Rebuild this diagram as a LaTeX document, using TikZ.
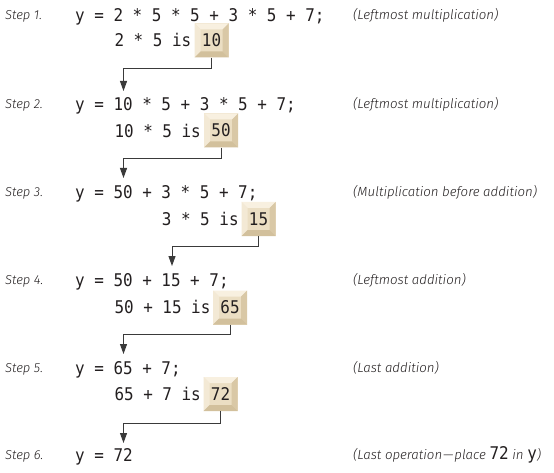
\documentclass[tikz,border=0pt]{standalone}
\usepackage{fontspec}
\setmainfont{Fira Sans}[UprightFont=* Light, ItalicFont=* Light Italic, BoldFont=*, BoldItalicFont=* Italic]
\newfontfamily\monofont[FakeStretch=0.91]{DejaVu Sans Mono}
\usetikzlibrary{arrows.meta,calc}
\definecolor{boxface}{HTML}{EBDEC3}
\definecolor{bevtop}{HTML}{F8F0E0}
\definecolor{bevleft}{HTML}{F3E9D5}
\definecolor{bevright}{HTML}{D9C8A6}
\definecolor{bevbot}{HTML}{D2C09C}
\definecolor{ink}{HTML}{231F20}
\definecolor{wire}{HTML}{3A3A3A}
\newcommand{\monofs}{\monofont\fontsize{17.5}{20}\selectfont}
\newcommand{\labfs}{\fontsize{13}{15}\selectfont\itshape}
\newcommand{\notefs}{\fontsize{13.25}{15}\selectfont\itshape}
\tikzset{
  mono/.style={font=\monofs, text=ink, inner sep=0pt, anchor=base west},
  steplab/.style={font=\labfs, text=ink, inner sep=0pt, anchor=base west},
  note/.style={font=\notefs, text=ink, inner sep=0pt, anchor=base west},
  resbox/.style={minimum width=34pt, minimum height=34pt, inner sep=0pt,
    font=\monofs, text=ink, fill=boxface,
    path picture={
      \coordinate (bsw) at (path picture bounding box.south west);
      \coordinate (bne) at (path picture bounding box.north east);
      \coordinate (bnw) at (path picture bounding box.north west);
      \coordinate (bse) at (path picture bounding box.south east);
      \fill[bevtop] (bnw) -- (bne) -- ([shift={(-6pt,-6pt)}]bne) -- ([shift={(6pt,-6pt)}]bnw) -- cycle;
      \fill[bevleft] (bnw) -- ([shift={(6pt,-6pt)}]bnw) -- ([shift={(6pt,6pt)}]bsw) -- (bsw) -- cycle;
      \fill[bevright] (bne) -- (bse) -- ([shift={(-6pt,6pt)}]bse) -- ([shift={(-6pt,-6pt)}]bne) -- cycle;
      \fill[bevbot] (bsw) -- (bse) -- ([shift={(-6pt,6pt)}]bse) -- ([shift={(6pt,6pt)}]bsw) -- cycle;
    }},
  conn/.style={draw=wire, line width=1pt, -{Triangle[width=7pt,length=10pt]}}
}
\begin{document}
\begin{tikzpicture}[x=1pt,y=-1pt]
\fill[white] (0,0) rectangle (554,473);
\useasboundingbox (0,0) rectangle (554,473);
% step labels
\node[steplab] (s1) at (5,19.5) {Step 1.};
\node[steplab] (s2) at (5,108.5) {Step 2.};
\node[steplab] (s3) at (5,196.5) {Step 3.};
\node[steplab] (s4) at (5,284.5) {Step 4.};
\node[steplab] (s5) at (5,372.5) {Step 5.};
\node[steplab] (s6) at (5,459.5) {Step 6.};
% equations
\node[mono] (e1) at (75,21.4) {y = 2 * 5 * 5 + 3 * 5 + 7;};
\node[mono] (e2) at (75,110.4) {y = 10 * 5 + 3 * 5 + 7;};
\node[mono] (e3) at (75,198.4) {y = 50 + 3 * 5 + 7;};
\node[mono] (e4) at (75,286.4) {y = 50 + 15 + 7;};
\node[mono] (e5) at (75,374.4) {y = 65 + 7;};
\node[mono] (e6) at (75,461.4) {y = 72};
% sub-results
\node[mono] (r1) at (114.3,46.9) {2 * 5 is};
\node[mono] (r2) at (114.3,137.4) {10 * 5 is};
\node[mono] (r3) at (161.7,225.9) {3 * 5 is};
\node[mono] (r4) at (114.3,313.9) {50 + 15 is};
\node[mono] (r5) at (114.3,400.4) {65 + 7 is};
\node[resbox] (b1) at (211.5,40.5) {10};
\node[resbox] (b2) at (221,130.5) {50};
\node[resbox] (b3) at (258.5,219) {15};
\node[resbox] (b4) at (230,307.5) {65};
\node[resbox] (b5) at (220.5,394) {72};
% notes
\node[note] (n1) at (353,19.5) {(Leftmost multiplication)};
\node[note] (n2) at (353,108.5) {(Leftmost multiplication)};
\node[note] (n3) at (353,196.5) {(Multiplication before addition)};
\node[note] (n4) at (353,284.5) {(Leftmost addition)};
\node[note] (n5) at (353,372.5) {(Last addition)};
\node[note] (n6) at (353,459.5) {(Last operation\kern1pt---\kern1pt place {\upshape\monofs 72} in {\upshape\monofs y})};
% arrow targets
\coordinate (t2) at (123.5,91);
\coordinate (t3) at (123.5,178);
\coordinate (t4) at (172,266);
\coordinate (t5) at (123.5,354);
\coordinate (t6) at (123.5,443);
\draw[conn] (b1.south) -- ++(0,11) -| (t2);
\draw[conn] (b2.south) -- ++(0,11) -| (t3);
\draw[conn] (b3.south) -- ++(0,10) -| (t4);
\draw[conn] (b4.south) -- ++(0,10) -| (t5);
\draw[conn] (b5.south) -- ++(0,12) -| (t6);
\end{tikzpicture}
\end{document}
